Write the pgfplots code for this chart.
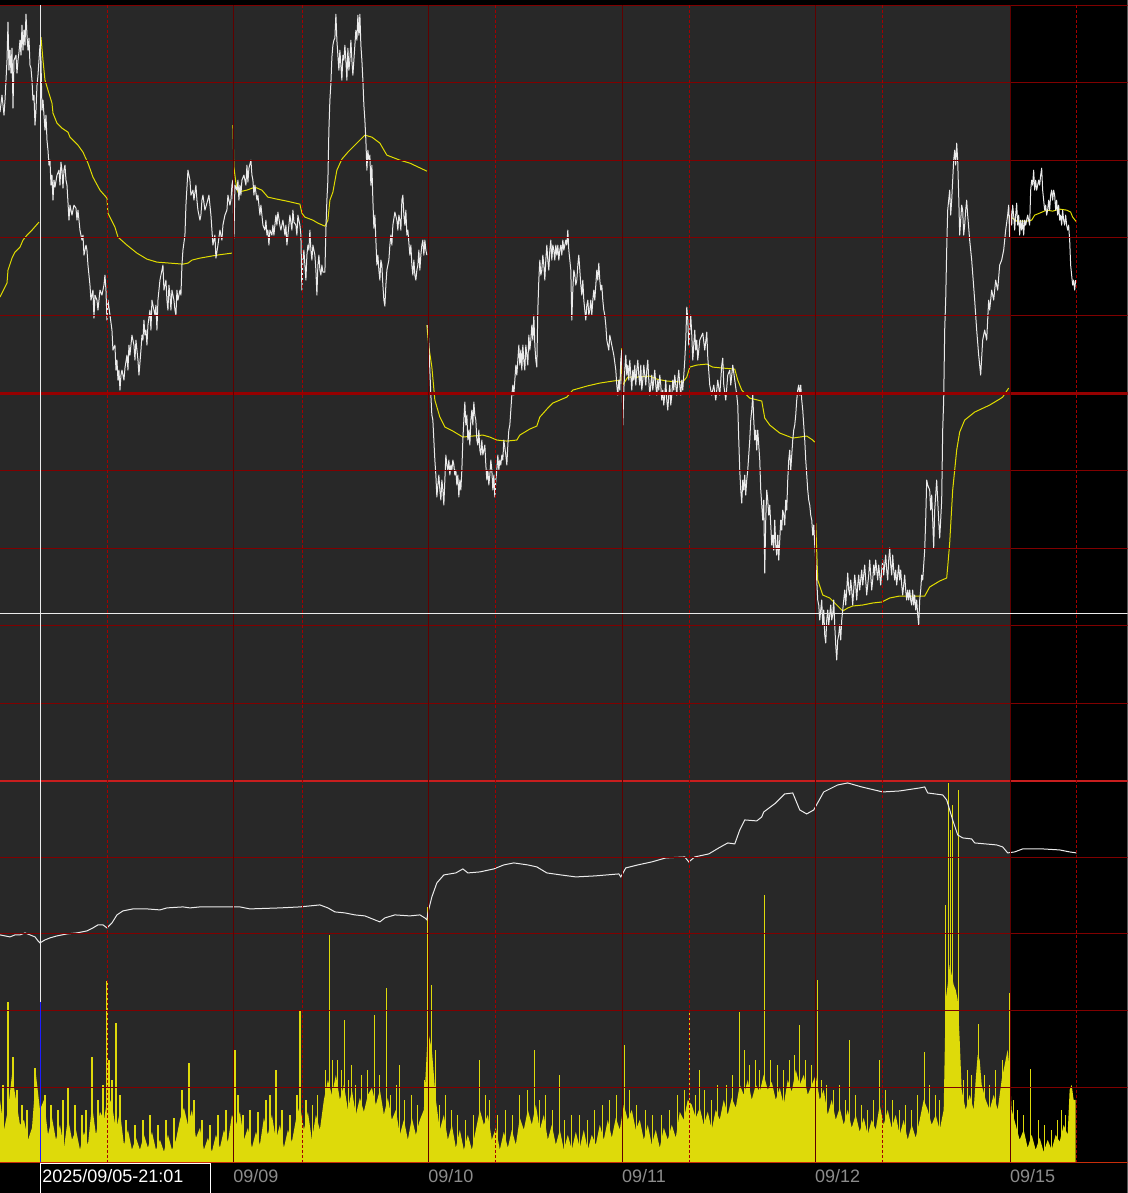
\documentclass[border=0pt]{standalone}
\usepackage{pgfplots}
\pgfplotsset{compat=1.18}
\usepackage{fontspec}
\setmainfont{Liberation Sans}

\definecolor{panelbg}{RGB}{40,40,40}
\definecolor{gridred}{RGB}{128,0,0}
\definecolor{dayred}{RGB}{95,0,0}
\definecolor{dashred}{RGB}{165,0,0}
\definecolor{midred}{RGB}{150,0,0}
\definecolor{sepred}{RGB}{200,30,30}
\definecolor{basered}{RGB}{200,45,10}
\definecolor{pricewhite}{RGB}{235,235,235}
\definecolor{mayellow}{RGB}{225,220,0}
\definecolor{volyellow}{RGB}{222,218,10}
\definecolor{labelgray}{RGB}{140,140,140}
\definecolor{cursorblue}{RGB}{30,30,255}

\begin{document}
\begin{tikzpicture}
% one unit = one pixel of the 1128x1193 screen, y counted downwards
\begin{axis}[
  scale only axis,
  width=564pt, height=596.5pt,
  xmin=0, xmax=1128, ymin=0, ymax=1193,
  y dir=reverse,
  axis on top,
  axis line style={draw=none},
  major tick length=0pt,
  ytick=\empty,
  xtick={233,428,622,815,1010},
  xticklabels={\mbox{09/09},\mbox{09/10},\mbox{09/11},\mbox{09/12},\mbox{09/15}},
  xticklabel style={anchor=base west, inner sep=0pt, yshift=5pt,
    text=labelgray, font=\fontsize{9pt}{9pt}\selectfont},
  unbounded coords=jump,
]
% backgrounds
\fill[black] (axis cs:0,0) rectangle (axis cs:1128,1193);
\fill[panelbg] (axis cs:0,5) rectangle (axis cs:1010,1162);

% volume
\addplot[draw=none, fill=volyellow] coordinates {
(0,1162)(0,1100)(4,1130)(8,1110)(12,1075)(16,1100)(20,1125)(24,1120)(28,1140)(32,1128)(36,1075)
(40,1110)(44,1100)(48,1135)(52,1118)(56,1140)(60,1125)(64,1148)(68,1118)(72,1140)(76,1130)
(80,1150)(84,1132)(88,1145)(92,1105)(96,1135)(100,1112)(104,1120)(108,1095)(112,1105)(116,1130)
(120,1112)(124,1145)(128,1130)(132,1150)(136,1138)(140,1150)(144,1135)(148,1148)(152,1132)(156,1150)
(160,1140)(164,1152)(168,1135)(172,1150)(176,1140)(180,1120)(184,1108)(188,1125)(192,1110)(196,1138)
(200,1128)(204,1150)(208,1138)(212,1152)(216,1135)(220,1148)(224,1130)(228,1142)(232,1115)(236,1125)
(240,1112)(244,1140)(248,1128)(252,1148)(256,1132)(260,1145)(264,1118)(268,1135)(272,1115)(276,1140)
(280,1125)(284,1148)(288,1130)(292,1142)(296,1120)(300,1105)(304,1130)(308,1112)(312,1140)(316,1115)
(320,1130)(324,1100)(328,1080)(332,1095)(336,1075)(340,1100)(344,1085)(348,1110)(352,1090)(356,1115)
(360,1098)(364,1112)(368,1095)(372,1088)(376,1105)(380,1090)(384,1115)(388,1098)(392,1120)(396,1110)
(400,1135)(404,1120)(408,1140)(412,1118)(416,1135)(420,1120)(424,1110)(428,1030)(432,1050)(436,1100)
(440,1130)(444,1115)(448,1140)(452,1125)(456,1148)(460,1130)(464,1150)(468,1135)(472,1150)(476,1130)
(480,1110)(484,1125)(488,1115)(492,1140)(496,1128)(500,1150)(504,1132)(508,1148)(512,1130)(516,1145)
(520,1118)(524,1130)(528,1110)(532,1125)(536,1105)(540,1130)(544,1115)(548,1140)(552,1125)(556,1145)
(560,1130)(564,1150)(568,1135)(572,1150)(576,1132)(580,1148)(584,1130)(588,1150)(592,1135)(596,1145)
(600,1125)(604,1140)(608,1120)(612,1138)(616,1118)(620,1130)(624,1105)(628,1120)(632,1110)(636,1130)
(640,1120)(644,1140)(648,1125)(652,1145)(656,1130)(660,1148)(664,1128)(668,1140)(672,1125)(676,1138)
(680,1112)(684,1120)(688,1100)(692,1105)(696,1118)(700,1108)(704,1125)(708,1112)(712,1130)(716,1110)
(720,1120)(724,1100)(728,1115)(732,1098)(736,1108)(740,1085)(744,1095)(748,1080)(752,1100)(756,1085)
(760,1092)(764,1075)(768,1090)(772,1082)(776,1100)(780,1088)(784,1105)(788,1080)(792,1092)(796,1070)
(800,1085)(804,1075)(808,1095)(812,1085)(816,1075)(820,1100)(824,1090)(828,1115)(832,1100)(836,1120)
(840,1108)(844,1125)(848,1110)(852,1128)(856,1115)(860,1132)(864,1118)(868,1135)(872,1120)(876,1130)
(880,1105)(884,1125)(888,1110)(892,1128)(896,1115)(900,1135)(904,1120)(908,1140)(912,1125)(916,1138)
(920,1120)(924,1100)(928,1110)(932,1125)(936,1115)(940,1130)(944,1110)(946,1000)(948,985)(950,965)
(952,975)(954,985)(956,990)(958,1000)(960,1040)(962,1090)(966,1110)(970,1095)(974,1110)(976,1080)
(978,1055)(980,1060)(982,1085)(986,1100)(990,1110)(994,1095)(998,1110)(1002,1080)(1006,1060)(1008,1050)
(1010,1070)(1012,1110)(1016,1125)(1020,1140)(1024,1130)(1028,1148)(1032,1135)(1036,1150)(1040,1138)(1044,1152)
(1048,1140)(1052,1150)(1056,1135)(1060,1142)(1064,1125)(1068,1135)(1070,1090)(1072,1085)(1074,1100)(1076,1100)
(1076,1162)} --cycle;

% medium volume bars
\addplot[volyellow, line width=0.6pt] coordinates {
(3,1162)(3,1085)(3,nan)(17,1162)(17,1090)(17,nan)(22,1162)(22,1105)(22,nan)(27,1162)(27,1110)(27,nan)
(45,1162)(45,1095)(45,nan)(51,1162)(51,1105)(51,nan)(58,1162)(58,1110)(58,nan)(63,1162)(63,1100)(63,nan)
(75,1162)(75,1105)(75,nan)(82,1162)(82,1115)(82,nan)(86,1162)(86,1110)(86,nan)(98,1162)(98,1100)(98,nan)
(103,1162)(103,1085)(103,nan)(112,1162)(112,1080)(112,nan)(120,1162)(120,1095)(120,nan)(126,1162)(126,1120)(126,nan)
(135,1162)(135,1125)(135,nan)(143,1162)(143,1120)(143,nan)(150,1162)(150,1115)(150,nan)(158,1162)(158,1125)(158,nan)
(166,1162)(166,1120)(166,nan)(174,1162)(174,1118)(174,nan)(182,1162)(182,1090)(182,nan)(194,1162)(194,1100)(194,nan)
(202,1162)(202,1120)(202,nan)(210,1162)(210,1125)(210,nan)(218,1162)(218,1115)(218,nan)(226,1162)(226,1110)(226,nan)
(238,1162)(238,1095)(238,nan)(243,1162)(243,1115)(243,nan)(250,1162)(250,1110)(250,nan)(258,1162)(258,1112)(258,nan)
(266,1162)(266,1100)(266,nan)(270,1162)(270,1095)(270,nan)(282,1162)(282,1110)(282,nan)(290,1162)(290,1115)(290,nan)
(297,1162)(297,1095)(297,nan)(306,1162)(306,1100)(306,nan)(313,1162)(313,1105)(313,nan)(318,1162)(318,1095)(318,nan)
(326,1162)(326,1070)(326,nan)(338,1162)(338,1060)(338,nan)(342,1162)(342,1070)(342,nan)(349,1162)(349,1080)(349,nan)
(356,1162)(356,1085)(356,nan)(362,1162)(362,1075)(362,nan)(368,1162)(368,1070)(368,nan)(380,1162)(380,1075)(380,nan)
(391,1162)(391,1095)(391,nan)(397,1162)(397,1085)(397,nan)(405,1162)(405,1100)(405,nan)(412,1162)(412,1095)(412,nan)
(418,1162)(418,1105)(418,nan)(425,1162)(425,1080)(425,nan)(440,1162)(440,1105)(440,nan)(446,1162)(446,1095)(446,nan)
(452,1162)(452,1110)(452,nan)(458,1162)(458,1115)(458,nan)(466,1162)(466,1120)(466,nan)(474,1162)(474,1115)(474,nan)
(486,1162)(486,1095)(486,nan)(490,1162)(490,1100)(490,nan)(498,1162)(498,1115)(498,nan)(506,1162)(506,1110)(506,nan)
(513,1162)(513,1115)(513,nan)(520,1162)(520,1095)(520,nan)(528,1162)(528,1090)(528,nan)(540,1162)(540,1100)(540,nan)
(546,1162)(546,1095)(546,nan)(553,1162)(553,1110)(553,nan)(565,1162)(565,1120)(565,nan)(572,1162)(572,1115)(572,nan)
(580,1162)(580,1115)(580,nan)(588,1162)(588,1120)(588,nan)(595,1162)(595,1110)(595,nan)(603,1162)(603,1105)(603,nan)
(610,1162)(610,1100)(610,nan)(617,1162)(617,1095)(617,nan)(630,1162)(630,1090)(630,nan)(637,1162)(637,1105)(637,nan)
(646,1162)(646,1110)(646,nan)(653,1162)(653,1115)(653,nan)(662,1162)(662,1115)(662,nan)(670,1162)(670,1110)(670,nan)
(678,1162)(678,1095)(678,nan)(685,1162)(685,1090)(685,nan)(696,1162)(696,1095)(696,nan)(705,1162)(705,1090)(705,nan)
(712,1162)(712,1100)(712,nan)(718,1162)(718,1085)(718,nan)(727,1162)(727,1085)(727,nan)(733,1162)(733,1075)(733,nan)
(750,1162)(750,1065)(750,nan)(756,1162)(756,1060)(756,nan)(760,1162)(760,1070)(760,nan)(771,1162)(771,1060)(771,nan)
(778,1162)(778,1065)(778,nan)(784,1162)(784,1070)(784,nan)(795,1162)(795,1055)(795,nan)(806,1162)(806,1060)(806,nan)
(812,1162)(812,1065)(812,nan)(822,1162)(822,1080)(822,nan)(827,1162)(827,1085)(827,nan)(834,1162)(834,1090)(834,nan)
(840,1162)(840,1085)(840,nan)(846,1162)(846,1100)(846,nan)(856,1162)(856,1095)(856,nan)(862,1162)(862,1105)(862,nan)
(868,1162)(868,1110)(868,nan)(874,1162)(874,1100)(874,nan)(886,1162)(886,1090)(886,nan)(893,1162)(893,1100)(893,nan)
(900,1162)(900,1110)(900,nan)(906,1162)(906,1105)(906,nan)(912,1162)(912,1110)(912,nan)(918,1162)(918,1095)(918,nan)
(930,1162)(930,1085)(930,nan)(936,1162)(936,1095)(936,nan)(940,1162)(940,1100)(940,nan)(964,1162)(964,1080)(964,nan)
(968,1162)(968,1070)(968,nan)(972,1162)(972,1075)(972,nan)(985,1162)(985,1075)(985,nan)(990,1162)(990,1085)(990,nan)
(996,1162)(996,1070)(996,nan)(1003,1162)(1003,1060)(1003,nan)(1014,1162)(1014,1100)(1014,nan)(1018,1162)(1018,1110)(1018,nan)
(1024,1162)(1024,1115)(1024,nan)(1039,1162)(1039,1120)(1039,nan)(1045,1162)(1045,1125)(1045,nan)(1052,1162)(1052,1130)(1052,nan)
(1058,1162)(1058,1120)(1058,nan)(1062,1162)(1062,1110)(1062,nan)(1066,1162)(1066,1115)};

% tall volume spikes
\addplot[volyellow, line width=0.6pt] coordinates {
(8,1162)(8,1002)(8,nan)(13,1162)(13,1057)(13,nan)(35,1162)(35,1068)(35,nan)
(68,1162)(68,1088)(68,nan)(92,1162)(92,1057)(92,nan)(107,1162)(107,981)(107,nan)
(109,1162)(109,1060)(109,nan)(116,1162)(116,1023)(116,nan)(189,1162)(189,1063)(189,nan)
(235,1162)(235,1050)(235,nan)(276,1162)(276,1070)(276,nan)(300,1162)(300,1010)(300,nan)
(330,1162)(330,935)(330,nan)(333,1162)(333,1060)(333,nan)(345,1162)(345,1020)(345,nan)
(352,1162)(352,1065)(352,nan)(375,1162)(375,1015)(375,nan)(387,1162)(387,988)(387,nan)
(400,1162)(400,1065)(400,nan)(428,1162)(428,907)(428,nan)(432,1162)(432,985)(432,nan)
(436,1162)(436,1050)(436,nan)(480,1162)(480,1060)(480,nan)(535,1162)(535,1050)(535,nan)
(560,1162)(560,1075)(560,nan)(625,1162)(625,1045)(625,nan)(690,1162)(690,1012)(690,nan)
(700,1162)(700,1070)(700,nan)(740,1162)(740,1012)(740,nan)(745,1162)(745,1050)(745,nan)
(765,1162)(765,895)(765,nan)(790,1162)(790,1060)(790,nan)(800,1162)(800,1025)(800,nan)
(818,1162)(818,980)(818,nan)(850,1162)(850,1040)(850,nan)(880,1162)(880,1060)(880,nan)
(925,1162)(925,1052)(925,nan)(946,1162)(946,905)(946,nan)(949,1162)(949,783)(949,nan)
(951,1162)(951,830)(951,nan)(953,1162)(953,805)(953,nan)(959,1162)(959,790)(959,nan)
(979,1162)(979,1024)(979,nan)(1010,1162)(1010,993)(1010,nan)(1031,1162)(1031,1069)(1031,nan)
(1072,1162)(1072,1087)};

% lower panel line
\addplot[pricewhite, line width=0.5pt] coordinates {
(0,935)(5,936)(10,937)(15,935)(20,935)(25,933)(30,935)(35,937)(38,941)(40,943)(45,940)(50,938)
(57,936)(67,934)(77,933)(87,931)(93,928)(98,925)(103,925)(107,928)(112,923)(117,915)(123,911)
(133,909)(147,909)(160,910)(167,908)(183,907)(190,908)(200,907)(240,907)(250,909)(280,908)
(300,907)(320,905)(328,908)(335,912)(345,913)(355,915)(365,916)(375,920)(380,922)(385,918)
(395,915)(410,916)(420,915)(425,918)(427,920)(428,913)(432,897)(437,883)(444,875)(456,873)
(463,869)(468,873)(480,872)(494,869)(504,865)(514,863)(528,865)(537,867)(547,873)(561,875)
(576,877)(595,876)(619,874)(621,877)(626,868)(638,865)(652,862)(666,858)(685,857)(689,862)
(695,857)(709,854)(719,848)(728,843)(735,844)(740,830)(745,820)(757,821)(762,817)(764,812)
(776,803)(785,794)(793,793)(800,810)(807,814)(814,810)(824,792)(838,785)(848,783)(862,787)
(883,792)(900,791)(920,788)(925,787)(928,793)(943,795)(947,800)(950,810)(953,820)(958,835)
(963,838)(972,839)(975,843)(997,845)(1003,847)(1008,853)(1015,852)(1023,849)(1043,849)
(1060,850)(1070,852)(1077,853)};

% moving average
\addplot[mayellow, line width=0.5pt] coordinates {
(0,297)(7,283)(8,270)(12,258)(15,252)(20,247)(23,240)(27,235)(32,230)(39,222)(39,nan)
(41,37)(43,60)(45,80)(48,90)(52,103)(53,113)(57,123)(62,128)(68,132)(70,137)(78,145)(83,152)
(88,163)(93,177)(100,190)(107,198)(108,213)(115,227)(118,237)(127,245)(137,253)(147,259)
(157,262)(170,263)(183,264)(188,263)(192,260)(200,258)(217,255)(232,253)(232,nan)
(233,125)(234,167)(236,183)(238,192)(247,190)(255,187)(262,190)(268,197)(277,199)(287,201)
(300,204)(302,213)(305,217)(313,220)(318,223)(325,226)(328,220)(330,200)(333,192)(337,170)
(342,159)(348,152)(357,143)(365,135)(372,137)(380,143)(387,155)(400,160)(410,163)(427,171)(427,nan)
(427,325)(429,347)(432,367)(435,400)(440,417)(445,427)(453,431)(463,437)(473,436)(483,435)
(490,437)(497,440)(507,441)(517,440)(520,435)(530,429)(537,426)(540,417)(548,408)(553,403)
(567,397)(573,390)(587,386)(600,383)(613,381)(621,380)(622,348)(623,385)(628,377)(637,377)
(650,376)(657,379)(667,381)(683,382)(687,377)(690,367)(697,365)(707,364)(713,367)(723,368)
(735,369)(738,380)(742,390)(750,398)(762,401)(765,418)(770,425)(780,433)(793,438)(800,437)
(807,436)(813,440)(815,442)(815,nan)
(816,523)(818,580)(823,595)(830,598)(837,605)(843,611)(848,608)(853,606)(863,605)(873,603)
(882,602)(890,598)(900,596)(913,596)(925,596)(930,587)(940,581)(947,578)(948,567)(950,543)
(953,490)(957,450)(960,432)(965,420)(975,412)(990,405)(1000,399)(1003,397)(1009,388)(1009,nan)
(1009,217)(1013,218)(1017,221)(1027,221)(1032,220)(1035,215)(1040,213)(1047,210)(1053,211)
(1060,209)(1067,210)(1071,212)(1073,217)(1077,222)};

% price, first part
\addplot[pricewhite, line width=0.5pt, line join=round] coordinates {
(0,112)(2,95)(4,115)(5,100)(7,60)(8,22)(9,70)(10,50)(11,73)(12,48)(13,108)(14,60)(16,55)(17,73)
(18,60)(19,52)(20,40)(21,55)(22,25)(23,50)(24,30)(25,45)(26,14)(27,35)(28,50)(29,38)(30,65)
(31,68)(32,80)(33,100)(34,95)(35,125)(36,110)(37,85)(38,75)(39,60)(40,45)(41,60)(42,110)
(43,100)(44,115)(45,130)(46,115)(47,140)(48,150)(49,165)(50,160)(51,185)(52,175)(53,200)
(54,180)(55,187)(57,175)(59,170)(60,185)(61,162)(62,170)(63,188)(64,170)(65,165)(66,180)
(67,185)(68,202)(69,220)(70,205)(72,215)(74,205)(76,208)(77,220)(78,210)(80,230)(82,240)
(83,235)(84,255)(86,245)(87,250)(88,265)(90,285)(91,300)(93,290)(94,318)(95,295)(97,300)
(98,310)(100,290)(102,295)(104,285)(105,275)(106,290)(107,320)(108,300)(110,315)(112,330)
(113,350)(115,345)(116,370)(117,360)(118,380)(119,370)(120,390)(121,375)(122,370)(124,380)
(125,368)(127,355)(128,370)(129,345)(130,355)(132,335)(134,345)(135,360)(136,340)(138,360)
(139,375)(141,350)(142,335)(143,340)(144,320)(145,335)(146,330)(147,345)(148,325)(150,310)
(151,330)(152,300)(154,310)(155,315)(156,305)(157,330)(158,300)(160,280)(161,275)(163,265)
(164,290)(166,280)(167,300)(168,310)(169,285)(170,295)(171,310)(172,290)(174,300)(175,310)
(176,315)(177,290)(178,300)(180,290)(181,295)(182,265)(183,250)(185,235)(186,205)(188,170)
(190,180)(191,195)(193,190)(194,200)(196,185)(197,200)(198,210)(200,220)(201,215)(202,200)
(203,195)(205,210)(207,203)(209,195)(211,215)(213,245)(215,235)(216,258)(218,245)(220,230)
(222,240)(223,225)(225,215)(227,210)(228,195)(230,205)(231,200)(232,185)(233,180)(234,238)
(235,185)(237,190)(238,180)(239,200)(240,185)(241,195)(242,180)(244,175)(246,185)(247,165)
(248,182)(249,168)(251,160)(252,175)(253,180)(254,195)(255,185)(257,200)(258,195)(260,215)
(261,205)(262,215)(263,225)(265,230)(266,220)(267,235)(268,230)(269,245)(270,230)(272,235)
(273,225)(274,235)(276,215)(277,225)(278,212)(280,225)(281,230)(283,220)(285,235)(286,225)
(287,245)(289,225)(290,215)(292,230)(293,210)(294,222)(296,225)(297,235)(298,215)(300,225)
(301,235)(302,290)(303,260)(304,250)(305,265)(306,280)(307,255)(308,245)(309,250)(310,230)
(311,250)(312,260)(313,245)(315,255)(316,270)(317,295)(318,265)(319,255)(320,270)(321,275)
(322,265)(323,272)(325,272)(326,230)(327,200)(328,180)(329,130)(330,100)(331,83)(332,57)
(333,45)(334,40)(335,38)(336,14)(337,40)(338,55)(339,70)(340,50)(341,65)(342,80)(343,55)
(344,60)(345,45)(346,60)(347,80)(348,48)(349,70)(350,60)(351,40)(352,60)(353,75)(354,60)
(355,45)(356,30)(357,40)(358,15)(359,35)(360,14)(361,45)(362,60)(363,80)(364,105)(365,120)
(366,140)(367,170)(368,150)(369,160)(370,155)(371,185)(372,165)(373,200)(374,228)(375,215)
(376,240)(377,265)(378,255)(379,270)(380,280)(381,260)(382,265)(383,285)(384,300)(385,306)
(386,285)(387,270)(389,260)(390,245)(391,235)(392,245)(393,225)(395,212)(397,220)(398,230)
(399,215)(400,220)(401,230)(402,200)(403,195)(404,215)(405,225)(406,210)(407,235)(408,230)
(410,255)(411,245)(412,265)(413,275)(414,260)(415,275)(416,280)(417,270)(418,265)(419,250)
(420,270)(421,255)(422,245)(423,240)(424,255)(425,240)(426,250)(427,255)};

% price, second part
\addplot[pricewhite, line width=0.5pt, line join=round] coordinates {
(428,325)(429,345)(430,370)(431,395)(432,415)(433,420)(434,440)(435,460)(436,475)(437,497)
(438,485)(439,475)(440,490)(441,500)(442,480)(443,490)(444,505)(445,480)(446,455)(447,465)
(448,470)(449,460)(450,475)(451,465)(452,470)(453,460)(454,465)(455,475)(456,470)(457,485)
(458,475)(459,497)(460,480)(461,490)(462,470)(463,440)(464,420)(465,402)(466,425)(467,415)
(468,440)(469,430)(470,445)(471,420)(472,410)(473,425)(474,402)(475,415)(476,420)(477,440)
(478,445)(479,430)(480,450)(481,455)(482,440)(483,455)(485,445)(486,465)(487,480)(488,470)
(489,485)(490,475)(491,460)(492,470)(493,490)(494,475)(495,497)(496,480)(497,470)(498,455)
(499,470)(500,460)(501,465)(502,455)(503,460)(504,440)(506,455)(507,465)(508,445)(509,430)
(510,425)(511,410)(512,395)(513,385)(514,395)(515,380)(516,365)(517,375)(518,360)(519,345)
(520,365)(521,350)(522,370)(523,345)(524,360)(525,370)(526,345)(527,355)(528,365)(529,335)
(530,350)(531,340)(532,325)(533,340)(534,315)(535,345)(536,360)(537,367)(538,310)(539,280)
(540,260)(541,275)(542,270)(543,255)(544,265)(545,280)(546,260)(547,245)(548,260)(549,270)
(550,250)(551,240)(552,260)(553,245)(554,250)(555,260)(556,245)(557,255)(558,245)(559,260)
(560,250)(561,245)(562,255)(563,240)(564,250)(565,245)(566,240)(567,245)(568,230)(569,250)
(570,260)(571,270)(572,320)(573,290)(574,270)(575,275)(576,285)(577,280)(578,265)(579,255)
(580,270)(581,285)(582,295)(583,280)(584,300)(585,310)(586,320)(587,305)(588,300)(589,315)
(590,310)(591,300)(592,315)(593,300)(594,290)(595,300)(596,285)(597,270)(598,280)(599,263)
(600,280)(601,290)(602,285)(603,300)(604,310)(605,315)(606,325)(607,340)(609,350)(610,335)
(612,345)(614,355)(616,370)(617,385)(618,395)(619,380)(620,390)(621,360)(622,350)(623,425)
(624,390)(625,370)(626,355)(627,375)(628,365)(629,380)(630,360)(631,375)(632,390)(633,370)
(634,380)(635,365)(636,385)(637,370)(638,360)(639,375)(640,385)(641,365)(642,390)(643,380)
(644,365)(645,375)(646,385)(647,370)(648,360)(649,380)(650,395)(651,385)(652,375)(653,390)
(654,380)(655,370)(656,385)(657,395)(658,380)(659,390)(660,375)(661,385)(662,400)(663,390)
(664,405)(665,395)(666,380)(667,400)(668,410)(669,395)(670,385)(671,405)(672,395)(673,380)
(674,390)(675,375)(676,385)(677,395)(678,380)(679,370)(680,385)(681,395)(682,380)(683,390)
(684,375)(685,360)(686,340)(687,307)(688,320)(689,345)(690,330)(691,315)(692,335)(693,360)
(694,345)(695,330)(696,350)(697,340)(698,360)(699,350)(700,340)(703,333)(705,350)(707,332)
(708,357)(710,385)(712,395)(714,385)(716,400)(718,380)(720,395)(722,365)(723,358)(724,385)
(726,400)(728,375)(730,370)(731,385)(733,365)(735,380)(737,395)(738,405)(739,440)(740,470)
(741,490)(742,503)(743,480)(744,490)(745,475)(746,495)(747,480)(748,470)(749,455)(750,440)
(751,420)(752,410)(753,395)(754,420)(755,440)(756,430)(757,450)(758,430)(759,445)(760,460)
(761,490)(762,505)(763,520)(764,500)(765,573)(766,520)(767,490)(768,500)(769,515)(770,505)
(771,525)(772,545)(773,535)(774,550)(775,520)(776,545)(777,555)(778,535)(779,560)(780,540)
(781,520)(782,530)(783,510)(784,515)(785,525)(786,500)(787,510)(788,480)(789,460)(790,450)
(791,470)(792,455)(793,440)(794,430)(795,425)(796,415)(797,400)(798,390)(799,385)(800,395)
(801,385)(802,400)(803,410)(804,425)(805,440)(806,460)(807,475)(808,490)(809,500)(810,505)
(811,515)(812,520)(813,535)(814,525)(815,545)(816,560)(817,580)(818,600)(819,605)(820,620)
(821,610)(822,600)(823,625)(824,610)(825,635)(826,643)(827,620)(828,610)(829,625)(830,615)
(831,605)(832,620)(833,615)(834,600)(835,625)(836,645)(837,660)(838,640)(839,635)(840,625)
(841,640)(842,620)(843,610)(844,600)(845,590)(846,605)(847,590)(848,573)(849,590)(850,595)
(851,580)(852,590)(853,605)(854,590)(855,575)(856,585)(857,600)(858,585)(859,575)(860,590)
(861,580)(862,570)(863,585)(864,575)(865,565)(866,580)(867,595)(868,585)(869,575)(870,560)
(871,575)(872,590)(873,580)(874,565)(875,575)(876,560)(877,570)(878,580)(879,565)(880,575)
(881,585)(882,570)(883,560)(884,575)(885,565)(886,555)(887,570)(888,580)(889,560)(890,548)
(891,565)(892,575)(893,555)(894,570)(895,580)(896,570)(897,585)(898,575)(899,565)(900,580)
(901,570)(902,585)(903,595)(904,585)(905,575)(906,590)(907,600)(908,590)(909,600)(910,590)
(911,600)(912,605)(913,590)(914,605)(915,595)(916,610)(917,600)(918,615)(919,625)(920,600)
(921,590)(922,575)(923,580)(924,565)(925,550)(926,520)(927,480)(928,485)(930,490)(931,510)
(932,495)(933,520)(934,548)(935,510)(936,495)(937,480)(938,500)(939,520)(940,538)(941,520)
(942,500)(943,430)(944,400)(945,330)(946,300)(947,250)(948,210)(949,200)(950,190)(951,215)
(952,200)(953,180)(954,160)(955,150)(956,165)(957,143)(958,160)(959,195)(960,235)(961,220)
(962,205)(963,210)(964,235)(965,225)(966,210)(967,200)(968,215)(970,240)(972,260)(975,300)
(977,330)(979,355)(981,375)(983,340)(985,330)(987,340)(989,300)(990,310)(992,290)(994,300)
(996,280)(998,290)(1000,265)(1002,260)(1004,250)(1006,230)(1008,215)(1009,205)(1010,237)
(1011,210)(1012,225)(1013,205)(1014,215)(1015,230)(1016,215)(1017,203)(1018,225)(1019,215)
(1020,235)(1021,220)(1022,230)(1023,220)(1024,235)(1025,220)(1026,225)(1027,220)(1028,215)
(1029,220)(1030,225)(1031,190)(1032,180)(1033,185)(1034,170)(1035,190)(1036,180)(1037,190)
(1038,185)(1039,180)(1040,185)(1041,175)(1042,168)(1043,190)(1044,200)(1045,210)(1046,205)
(1047,215)(1048,210)(1049,200)(1050,210)(1051,195)(1052,190)(1053,200)(1054,190)(1055,195)
(1056,210)(1057,200)(1058,215)(1059,205)(1060,220)(1061,215)(1062,225)(1063,210)(1064,220)
(1065,225)(1066,215)(1067,225)(1068,230)(1069,225)(1070,240)(1071,265)(1072,275)(1073,285)
(1074,280)(1075,290)(1076,280)};

% grid
\pgfplotsinvokeforeach{5.5,82.5,160.5,237.5,315.5,470.5,548.5,625.5,703.5,857.5,933.5,1010.5,1087.5}{
  \draw[gridred, line width=0.5pt] (axis cs:0,#1) -- (axis cs:1128,#1);}
\draw[midred, line width=1.5pt] (axis cs:0,393.5) -- (axis cs:1128,393.5);
\draw[sepred, line width=1pt] (axis cs:0,781) -- (axis cs:1128,781);
\draw[basered, line width=0.5pt] (axis cs:0,1162.5) -- (axis cs:1128,1162.5);
\pgfplotsinvokeforeach{233.5,428.5,622.5,815.5,1010.5}{
  \draw[dayred, line width=0.5pt] (axis cs:#1,5) -- (axis cs:#1,1162);}
\pgfplotsinvokeforeach{107.5,302.5,495.5,689.5,882.5,1076.5}{
  \draw[dashred, line width=0.5pt, dash pattern=on 1.5pt off 1pt] (axis cs:#1,5) -- (axis cs:#1,1162);}
\draw[pricewhite, line width=0.5pt] (axis cs:0,613.5) -- (axis cs:1128,613.5);

% cursor
\draw[pricewhite, line width=0.5pt] (axis cs:40.5,5) -- (axis cs:40.5,1002);
\draw[cursorblue, line width=0.5pt] (axis cs:40.5,1002) -- (axis cs:40.5,1162);
\draw[white, line width=0.5pt, fill=black] (axis cs:40.5,1163.5) rectangle (axis cs:210.5,1196);
\node[anchor=base west, inner sep=0pt, text=white, font=\fontsize{9pt}{9pt}\selectfont]
  at (axis cs:42,1183) {2025/09/05-21:01};
\end{axis}
\end{tikzpicture}
\end{document}
